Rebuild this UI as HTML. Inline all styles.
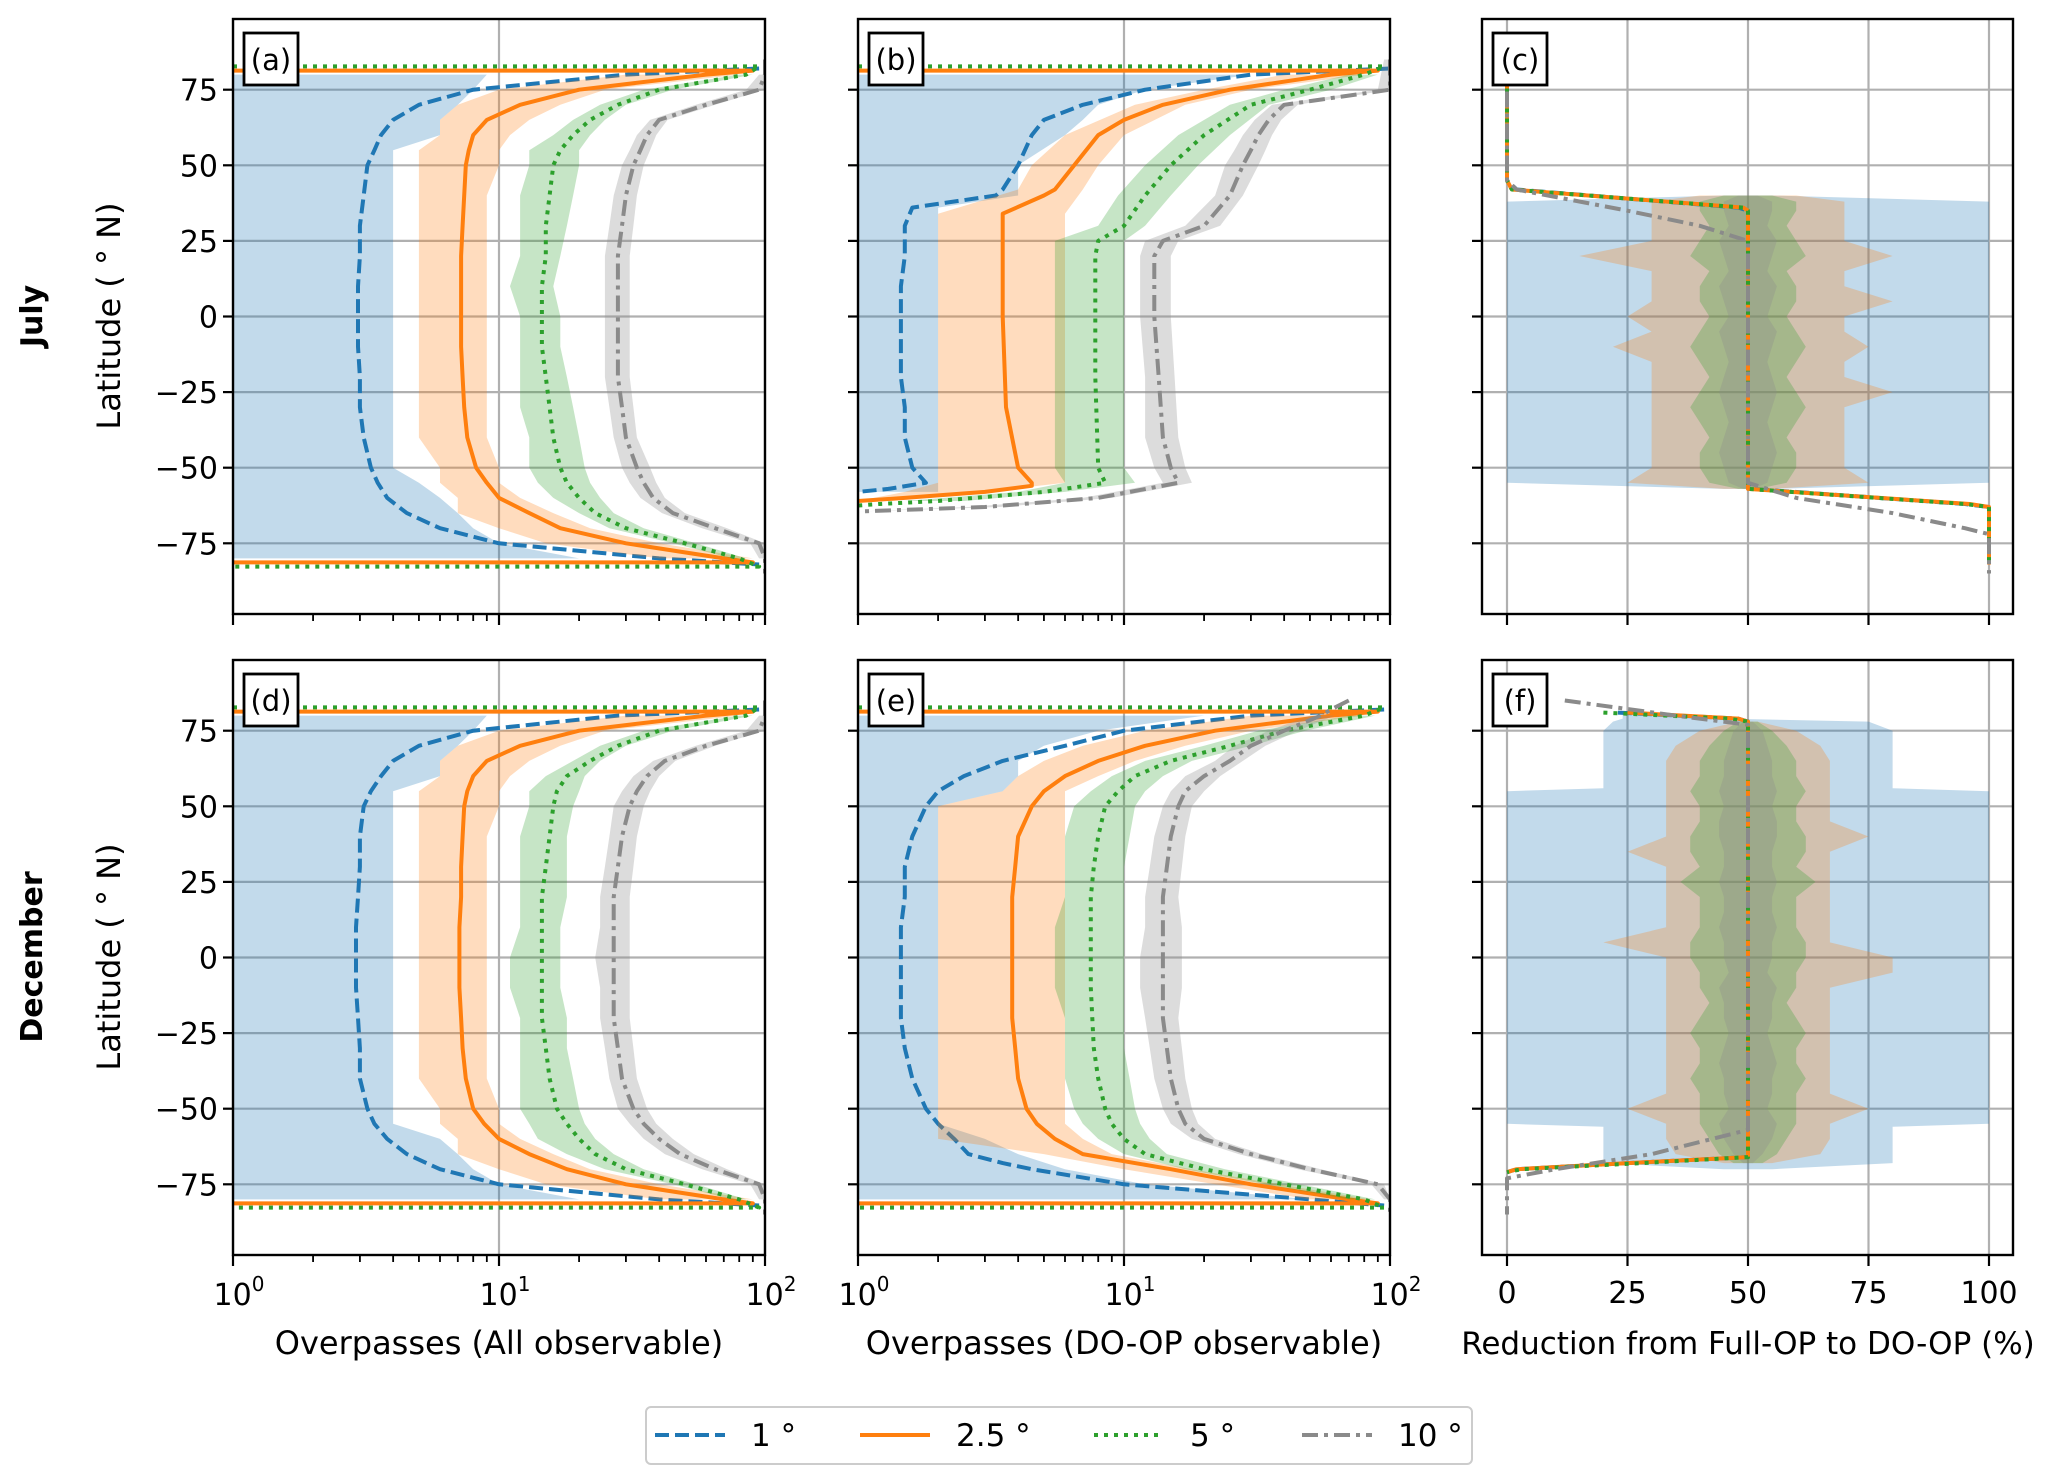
<!DOCTYPE html>
<html><head><meta charset="utf-8"><style>
html,body{margin:0;padding:0;background:#fff}
svg{display:block}
text{font-family:"DejaVu Sans","Liberation Sans",sans-serif;fill:#000}
</style></head><body>
<svg id="fig" xmlns="http://www.w3.org/2000/svg" width="2067" height="1484" viewBox="0 0 2067 1484"></svg>
<script>
// ---------------- data ----------------
const LAT = [80,75,70,65,60,55,50,40,30,20,10,0,-10,-20,-30,-40,-50,-55,-60,-65,-70,-75,-80];
const yTicks = [-75,-50,-25,0,25,50,75];
const cTicks = [0,25,50,75,100];
const seriesNames = ["1°","2.5°","5°","10°"];

// panel a (July, all observable)
const aBlueLat = [82,80,75,70,65,60,55,50,40,30,20,10,0,-10,-20,-30,-40,-50,-55,-60,-65,-70,-75,-80,-82];
const aBlue = [95,30,8,5,4,3.6,3.4,3.2,3.1,3.0,3.0,2.95,2.95,2.95,3.0,3.0,3.1,3.3,3.5,3.8,4.5,6,10,40,95];
const aBlueLo = [1,1,1,1,1,1,1,1,1,1,1,1,1,1,1,1,1,1,1,1,1,1,1];
const aBlueHi = [9,8,7,6,6,4,4,4,4,4,4,4,4,4,4,4,4,5,6,7,8,10,20];
const aOrLat = [81.3,81.3,80,75,70,65,60,55,50,40,30,20,10,0,-10,-20,-30,-40,-50,-55,-60,-65,-70,-75,-80,-81.3,-81.3];
const aOr = [1,90,60,20,12,9,8,7.7,7.5,7.4,7.3,7.2,7.2,7.2,7.2,7.3,7.4,7.6,8.2,9,10,13,17,30,70,90,1];
const aOrLo = [30,10,7,6,6,5,5,5,5,5,5,5,5,5,5,5,6,6,7,7,10,15,40];
const aOrHi = [80,25,17,13,11,10,10,9,9,9,9,9,9,9,9,9,10,10,12,16,22,40,90];
const aGrLat = [82.7,82.7,80,75,70,65,60,55,50,40,30,20,10,0,-10,-20,-30,-40,-50,-55,-60,-65,-70,-75,-80,-82.7,-82.7];
const aGr = [1,95,85,40,28,22,19,17,16,15.5,15,15,14.5,14.5,14.5,15,15.5,16,17,18,20,23,30,50,80,95,1];
const aGrLo = [80,35,24,19,16,13,13,12,12,12,11,12,12,12,12,13,13,14,16,20,26,45,75];
const aGrHi = [90,45,30,25,22,20,20,19,18,17,16,17,17,18,19,20,21,22,24,27,35,55,85];
const aGyLat = [85,82,80,75,70,65,60,55,50,40,30,20,10,0,-10,-20,-30,-40,-50,-55,-60,-65,-70,-75,-80,-82,-85];
const aGy = [100,100,100,95,60,40,36,34,32,30,29,28,28,28,28,28,29,30,33,35,38,45,65,95,100,100,100];
const aGyLo = [95,85,55,37,33,31,29,27,26,25,25,25,25,25,26,27,29,31,34,41,58,88,95];
const aGyHi = [100,100,65,43,39,37,35,33,32,31,31,31,31,31,32,33,37,39,42,50,72,100,100];

// panel d (December, all observable)
const dBlue = [95,28,8,5,4,3.6,3.3,3.1,3.0,3.0,2.95,2.9,2.9,2.9,2.95,3.0,3.0,3.2,3.4,3.8,4.5,6,10,40,95];
const dBlueHi = [9,8,7,6,6,4,4,4,4,4,4,4,4,4,4,4,4,4,6,7,8,10,20];
const dOr = [1,90,60,20,12,9,8,7.6,7.4,7.3,7.2,7.2,7.1,7.1,7.1,7.2,7.3,7.5,8,8.8,10,13,18,30,70,90,1];
const dOrLo = [30,10,7,6,6,5,5,5,5,5,5,5,5,5,5,5,6,6,7,7,10,15,40];
const dOrHi = [80,25,17,13,11,10,10,9,9,9,9,9,9,9,9,9,10,10,12,16,22,40,90];
const dGr = [1,95,85,40,28,22,18,16.5,16,15.5,15,14.5,14.5,14.5,14.5,14.5,15,15.5,16.5,18,20,23,30,50,80,95,1];
const dGrLo = [80,35,24,19,15,13,13,12,12,12,12,11,11,12,12,12,12,13,14,18,25,45,75];
const dGrHi = [90,45,30,24,21,20,19,18,18,18,17,17,17,18,18,19,20,21,23,27,35,55,85];
const dGy = [100,100,100,95,60,42,36,33,31,29,28,27,27,27,27,27,28,29,32,35,40,48,65,95,100,100,100];
const dGyLo = [95,85,55,38,32,29,27,26,25,24,24,23,24,24,25,26,28,31,35,42,58,88,95];
const dGyHi = [100,100,65,46,40,37,35,33,32,31,31,31,31,31,32,33,36,39,45,54,72,100,100];

// panel b (July, DO-OP)
const bBlueLat = [82,80,75,70,65,60,50,42,40,36,30,20,10,0,-10,-20,-30,-40,-50,-55,-57,-58];
const bBlue = [100,30,12,7,5,4.5,4,3.5,3.3,1.6,1.5,1.5,1.45,1.45,1.45,1.45,1.5,1.5,1.6,1.8,1.3,1.0];
const bBlueBandLat = [80,75,70,65,60,50,40,36,30,0,-30,-50,-55,-58];
const bBlueLo = [1,1,1,1,1,1,1,1,1,1,1,1,1,1];
const bBlueHi = [30,12,8,7,6,4,4,2,2,2,2,2,2,2];
const bOrLat = [81.3,81.3,80,75,70,65,60,50,42,40,34,30,0,-30,-50,-55,-56,-58,-60,-61];
const bOr = [1,90,60,25,14,10,8,6.5,5.5,5,3.5,3.5,3.5,3.6,4,4.5,4.5,3,1.5,1];
const bOrBandLat = [80,75,70,60,50,42,34,30,0,-30,-50,-55,-58,-61];
const bOrLo = [40,20,11,6,4.5,4,2,2,2,2,2,2,1.5,1];
const bOrHi = [80,30,17,10,8,7,6,6,6,6,6,6,3,1.2];
const bGrLat = [82.7,82.7,80,75,70,60,50,40,30,25,20,0,-20,-50,-55,-58,-61,-62,-62.5];
const bGr = [1,95,80,50,30,20,15,12,10,8,7.8,7.8,7.8,8,8.5,5,2,1.2,1];
const bGrBandLat = [80,75,70,60,50,40,30,25,0,-50,-55,-58,-61];
const bGrLo = [70,40,25,16,12,9.5,8,5.5,5.5,5.5,6,4,1.5];
const bGrHi = [90,60,35,25,19,15,12,10,10,10,11,6,2.5];
const bGyLat = [85,75,70,65,60,55,50,40,30,25,20,0,-20,-40,-50,-55,-60,-63,-64.5];
const bGy = [100,100,40,35,32,30,28,25,20,14,13,13,13.5,14,15,16,8,3,1];
const bGyLo = [95,90,36,31,28,26,24,22,17,12,11.5,11.5,12,12,13,14,7,2.6,1];
const bGyHi = [100,100,45,39,36,34,32,28,23,16,15,15,15.5,16,17,18,9,3.4,1];

// panel e (December, DO-OP)
const eBlueLat = [82,80,75,70,65,60,55,50,40,30,20,10,0,-10,-20,-30,-40,-50,-55,-60,-65,-68,-70,-75,-80,-82];
const eBlue = [95,30,10,6,3.5,2.5,2,1.8,1.6,1.5,1.5,1.45,1.45,1.45,1.45,1.5,1.6,1.8,2,2.3,2.6,3.5,4.5,10,50,95];
const eBlueLo = [1,1,1,1,1,1,1,1,1,1,1,1,1,1,1,1,1,1,1,1,1,1,1];
const eBlueHi = [20,8,5,4,4,3.5,2,2,2,2,2,2,2,2,2,2,2,2,3,4,6,12,50];
const eOr = [1,90,60,22,12,8,6,5,4.5,4,3.9,3.8,3.8,3.8,3.8,3.8,3.9,4,4.3,4.7,5.5,7,15,30,70,90,1];
const eOrLo = [30,12,7,5,4,3.5,2,2,2,2,2,2,2,2,2,2,2,2,2,5,10,22,50];
const eOrHi = [80,30,17,11,8,6,6,6,6,6,6,6,6,6,6,6,6,6,7,9,18,38,85];
const eGr = [1,95,80,40,25,15,11,9.5,8.5,8,7.7,7.5,7.5,7.5,7.5,7.6,7.7,8,8.5,9,10,12,20,40,80,95,1];
const eGrLo = [70,32,20,12,9,7.5,6.5,6,6,6,5.5,5.5,5.5,6,6,6,6.5,7,8,10,17,34,70];
const eGrHi = [88,48,30,18,14,12,11,10.5,10,10,10,10,10,10,10,10.5,11,11.5,12.5,14.5,24,46,88];
const eGy = [70,60,55,40,30,25,20,17,16,15,14.5,14,14,14,14,14,14.5,15,16,17,20,30,50,90,100,100,100];
const eGyLo = [50,35,26,22,17,15,14,13,12.5,12,12,11.5,11.5,12,12.5,13,14,15,18,27,45,85,95];
const eGyHi = [62,45,34,28,23,20,18,17,16.5,16,16.5,16.5,16.5,16,16.5,17,18,19,22,33,55,95,100];

// panel c (July reduction %)
const cLat = [82,45,42,36,35,0,-55,-57,-62,-63,-82];
const cBlue = [0,0,2,48,50,50,50,51,95,100,100];
const cOr = [0,0,1,49,50,50,50,50,96,100,100];
const cGr = [0,0,1,49,50,50,50,50,95,100,100];
const cGyLat = [85,45,42,35,30,25,0,-55,-60,-65,-70,-72,-85];
const cGy = [0,0,2,25,40,50,50,50,60,80,95,100,100];
const cBlueBandLat = [40,38,-55,-57];
const cBlueLo = [45,0,0,45];
const cBlueHi = [55,100,100,55];
const cBandLat = [40,38,35,30,25,20,15,10,5,0,-5,-10,-15,-20,-25,-30,-35,-40,-45,-50,-55,-57];
const cOrLo = [40,30,30,30,30,15,30,30,30,25,30,22,30,30,30,30,30,30,30,30,25,45];
const cOrHi = [60,70,70,70,70,80,70,70,80,70,70,75,70,70,80,70,70,70,70,70,75,55];
const cGrLo = [45,40,40,42,40,38,42,40,40,42,40,38,40,42,40,38,40,42,40,40,42,48];
const cGrHi = [55,60,60,58,60,62,58,60,60,58,60,62,60,58,60,62,60,58,60,60,58,52];
const cGyLo = [48,45,45,46,44,45,46,44,45,46,44,45,46,45,44,45,46,45,44,45,46,49];
const cGyHi = [52,55,55,54,56,55,54,56,55,54,56,55,54,55,56,55,54,55,56,55,54,51];

// panel f (December reduction %)
const fLat = [81,79,78,0,-66,-68,-70,-71];
const fBlue = [23,48,50,50,50,25,2,0];
const fOr = [25,48,50,50,50,25,2,0];
const fGr = [20,46,50,50,50,28,3,0];
const fGyLat = [85,80,77,0,-57,-65,-70,-73,-85];
const fGy = [12,35,50,50,50,30,10,0,0];
const fBlueBandLat = [81,79,78,75,56,55,-55,-56,-68,-70];
const fBlueLo = [24,24,22,20,20,0,0,20,20,45];
const fBlueHi = [26,45,75,80,80,100,100,80,80,55];
const fBandLat = [78,75,70,65,60,55,50,45,40,35,30,25,20,15,10,5,0,-5,-10,-15,-20,-25,-30,-35,-40,-45,-50,-55,-60,-65,-68];
const fOrLo = [48,40,35,33,33,33,33,33,33,25,33,33,33,33,33,20,33,33,33,33,33,33,33,33,33,33,25,33,33,35,45];
const fOrHi = [52,60,65,67,67,67,67,67,75,67,67,67,67,67,67,67,80,80,67,67,67,67,67,67,67,67,75,67,67,65,55];
const fGrLo = [48,45,42,40,40,38,40,40,38,38,40,36,40,40,40,38,38,40,40,42,40,38,40,40,38,40,40,40,42,44,47];
const fGrHi = [52,55,58,60,60,62,60,60,62,62,60,64,60,60,60,62,62,60,60,58,60,62,60,60,62,60,60,60,58,56,53];
const fGyLo = [49,47,46,45,45,44,45,44,44,45,45,44,45,45,44,45,45,46,44,45,45,46,45,44,45,45,46,44,45,47,49];
const fGyHi = [51,53,54,55,55,56,55,56,56,55,55,56,55,55,56,55,55,54,56,55,55,54,55,56,55,55,54,56,55,53,51];

// ---------------- drawing ----------------
const NS = "http://www.w3.org/2000/svg";
const svg = document.getElementById("fig");
const COL = {b:"#1f77b4", o:"#ff7f0e", g:"#2ca02c", y:"#8a8a8a"};
const DASH = {b:"14 6", o:"", g:"4 6", y:"16 6 4 6"};
function el(tag, attrs, parent){ const e=document.createElementNS(NS,tag); for(const k in attrs) e.setAttribute(k,attrs[k]); (parent||svg).appendChild(e); return e; }

function makePanel(id, x0, x1, top, bot, type){
  const p = {id,x0,x1,top,bot,type,yc:(top+bot)/2, ky:3.024};
  p.x = v => type==="log" ? x0 + Math.log10(v)/2*(x1-x0) : 1507-1482+x0 + v*4.82;
  p.y = lat => p.yc - lat*p.ky;
  const cp = el("clipPath",{id:"clip-"+id});
  el("rect",{x:x0,y:top,width:x1-x0,height:bot-top},cp);
  p.g = el("g",{"clip-path":"url(#clip-"+id+")"});
  
  
  return p;
}
function grid(p){
  const gg = el("g",{stroke:"#b0b0b0","stroke-width":2.2},p.g);
  yTicks.forEach(t=>el("line",{x1:p.x0,x2:p.x1,y1:p.y(t),y2:p.y(t)},gg));
  const xs = p.type==="log" ? [1,10,100] : cTicks;
  xs.forEach(t=>el("line",{x1:p.x(t),x2:p.x(t),y1:p.top,y2:p.bot},gg));
}
function band(p, lat, lo, hi, c, name){
  let pts=[];
  for(let i=0;i<lat.length;i++) pts.push(p.x(lo[i]).toFixed(1)+","+p.y(lat[i]).toFixed(1));
  for(let i=lat.length-1;i>=0;i--) pts.push(p.x(hi[i]).toFixed(1)+","+p.y(lat[i]).toFixed(1));
  const e = el("polygon",{points:pts.join(" "),fill:COL[c],"fill-opacity":c==="y"?0.3:0.27,stroke:"none"},p.g);
  
  
}
function line(p, lat, val, c, name){
  const pts = lat.map((l,i)=>p.x(val[i]).toFixed(1)+","+p.y(l).toFixed(1)).join(" ");
  const a = {points:pts,fill:"none",stroke:COL[c],"stroke-width":4,"stroke-linejoin":"round"};
  if(DASH[c]) a["stroke-dasharray"]=DASH[c];
  const e = el("polyline",a,p.g);
  
  
}
function frame(p, label, showY, showX){
  const ax = el("g",{});
  
  
  el("rect",{x:p.x0,y:p.top,width:p.x1-p.x0,height:p.bot-p.top,fill:"none",stroke:"#000","stroke-width":2.4},ax);
  yTicks.forEach(t=>{
    el("line",{x1:p.x0-10,x2:p.x0,y1:p.y(t),y2:p.y(t),stroke:"#000","stroke-width":2.2},ax);
    if(showY){ const tx=el("text",{x:p.x0-15,y:p.y(t)+11,"text-anchor":"end","font-size":30},ax); tx.textContent=(t<0?"\u2212"+(-t):String(t));
        }
  });
  if(p.type==="log"){
    for(let d=0; d<2; d++) for(let m=2;m<=9;m++){ const xx=p.x(m*Math.pow(10,d)); el("line",{x1:xx,x2:xx,y1:p.bot,y2:p.bot+7,stroke:"#000","stroke-width":1.8},ax); }
    [0,1,2].forEach(k=>{
      const xx=p.x(Math.pow(10,k));
      el("line",{x1:xx,x2:xx,y1:p.bot,y2:p.bot+11,stroke:"#000","stroke-width":2.2},ax);
      if(showX){ const tx=el("text",{x:xx+6,y:p.bot+50,"text-anchor":"middle","font-size":30},ax);
        tx.innerHTML='10<tspan font-size="20" dy="-14">'+k+'</tspan>';
          }
    });
  } else {
    cTicks.forEach(t=>{
      const xx=p.x(t);
      el("line",{x1:xx,x2:xx,y1:p.bot,y2:p.bot+11,stroke:"#000","stroke-width":2.2},ax);
      if(showX){ const tx=el("text",{x:xx,y:p.bot+48,"text-anchor":"middle","font-size":30},ax); tx.textContent=String(t);
          }
    });
  }
  const bx = el("g",{},ax);
  
  
  el("rect",{x:p.x0+11,y:p.top+14,width:54,height:52,fill:"#fff",stroke:"#000","stroke-width":2.8},bx);
  const lt=el("text",{x:p.x0+38,y:p.top+51,"text-anchor":"middle","font-size":29},bx); lt.textContent="("+label+")";
}

const pa = makePanel("a",233,765,19,614,"log");
const pb = makePanel("b",858,1390,19,614,"log");
const pc = makePanel("c",1482,2013,19,614,"lin");
const pd = makePanel("d",233,765,660,1255,"log");
const pe = makePanel("e",858,1390,660,1255,"log");
const pf = makePanel("f",1482,2013,660,1255,"lin");
[pa,pb,pc,pd,pe,pf].forEach(grid);

// a
band(pa,LAT,aBlueLo,aBlueHi,"b","band-1deg"); line(pa,aBlueLat,aBlue,"b","line-1deg");
band(pa,LAT,aOrLo,aOrHi,"o","band-2p5deg"); line(pa,aOrLat,aOr,"o","line-2p5deg");
band(pa,LAT,aGrLo,aGrHi,"g","band-5deg"); line(pa,aGrLat,aGr,"g","line-5deg");
band(pa,LAT,aGyLo,aGyHi,"y","band-10deg"); line(pa,aGyLat,aGy,"y","line-10deg");
// d
band(pd,LAT,aBlueLo,dBlueHi,"b","band-1deg"); line(pd,aBlueLat,dBlue,"b","line-1deg");
band(pd,LAT,dOrLo,dOrHi,"o","band-2p5deg"); line(pd,aOrLat,dOr,"o","line-2p5deg");
band(pd,LAT,dGrLo,dGrHi,"g","band-5deg"); line(pd,aGrLat,dGr,"g","line-5deg");
band(pd,LAT,dGyLo,dGyHi,"y","band-10deg"); line(pd,aGyLat,dGy,"y","line-10deg");
// b
band(pb,bBlueBandLat,bBlueLo,bBlueHi,"b","band-1deg"); line(pb,bBlueLat,bBlue,"b","line-1deg");
band(pb,bOrBandLat,bOrLo,bOrHi,"o","band-2p5deg"); line(pb,bOrLat,bOr,"o","line-2p5deg");
band(pb,bGrBandLat,bGrLo,bGrHi,"g","band-5deg"); line(pb,bGrLat,bGr,"g","line-5deg");
band(pb,bGyLat,bGyLo,bGyHi,"y","band-10deg"); line(pb,bGyLat,bGy,"y","line-10deg");
// e
band(pe,LAT,eBlueLo,eBlueHi,"b","band-1deg"); line(pe,eBlueLat,eBlue,"b","line-1deg");
band(pe,LAT,eOrLo,eOrHi,"o","band-2p5deg"); line(pe,aOrLat,eOr,"o","line-2p5deg");
band(pe,LAT,eGrLo,eGrHi,"g","band-5deg"); line(pe,aGrLat,eGr,"g","line-5deg");
band(pe,LAT,eGyLo,eGyHi,"y","band-10deg"); line(pe,aGyLat,eGy,"y","line-10deg");
// c
band(pc,cBlueBandLat,cBlueLo,cBlueHi,"b","band-1deg");
band(pc,cBandLat,cOrLo,cOrHi,"o","band-2p5deg");
band(pc,cBandLat,cGrLo,cGrHi,"g","band-5deg");
band(pc,cBandLat,cGyLo,cGyHi,"y","band-10deg");
line(pc,cLat,cBlue,"b","line-1deg"); line(pc,cLat,cOr,"o","line-2p5deg");
line(pc,cLat,cGr,"g","line-5deg"); line(pc,cGyLat,cGy,"y","line-10deg");
// f
band(pf,fBlueBandLat,fBlueLo,fBlueHi,"b","band-1deg");
band(pf,fBandLat,fOrLo,fOrHi,"o","band-2p5deg");
band(pf,fBandLat,fGrLo,fGrHi,"g","band-5deg");
band(pf,fBandLat,fGyLo,fGyHi,"y","band-10deg");
line(pf,fLat,fBlue,"b","line-1deg"); line(pf,fLat,fOr,"o","line-2p5deg");
line(pf,fLat,fGr,"g","line-5deg"); line(pf,fGyLat,fGy,"y","line-10deg");

frame(pa,"a",true,false); frame(pb,"b",false,false); frame(pc,"c",false,false);
frame(pd,"d",true,true); frame(pe,"e",false,true); frame(pf,"f",false,true);

// axis titles
function txt(x,y,s,size,attrs,name){ const t=el("text",Object.assign({x,y,"font-size":size,"text-anchor":"middle"},attrs||{})); t.textContent=s;
    return t; }
txt(499,1354,"Overpasses (All observable)",32,{},"x-axis-title-a");
txt(1124,1354,"Overpasses (DO-OP observable)",32,{},"x-axis-title-b");
txt(1748,1354,"Reduction from Full-OP to DO-OP (%)",31,{},"x-axis-title-c");
txt(0,0,"Latitude ( \u00b0 N)",32,{transform:"translate(120,316) rotate(-90)"},"y-axis-title-july");
txt(0,0,"Latitude ( \u00b0 N)",32,{transform:"translate(120,957) rotate(-90)"},"y-axis-title-december");
txt(0,0,"July",30,{transform:"translate(42,316) rotate(-90)","font-weight":"bold"},"row-label-july");
txt(0,0,"December",30,{transform:"translate(42,957) rotate(-90)","font-weight":"bold"},"row-label-december");

// legend
const lg = el("g",{});


el("rect",{x:646,y:1407,width:826,height:57,rx:5,fill:"#fff",stroke:"#cccccc","stroke-width":2},lg);
const legX = [655,860,1094,1302];
["b","o","g","y"].forEach((c,i)=>{
  const e = el("g",{},lg);
  
  
  const a={x1:legX[i],x2:legX[i]+70,y1:1435,y2:1435,stroke:COL[c],"stroke-width":4};
  if(DASH[c]) a["stroke-dasharray"]=DASH[c];
  el("line",a,e);
  const t=el("text",{x:legX[i]+96,y:1446,"font-size":31},e); t.textContent=seriesNames[i].replace("°"," \u00b0");
});
</script>
</body></html>
